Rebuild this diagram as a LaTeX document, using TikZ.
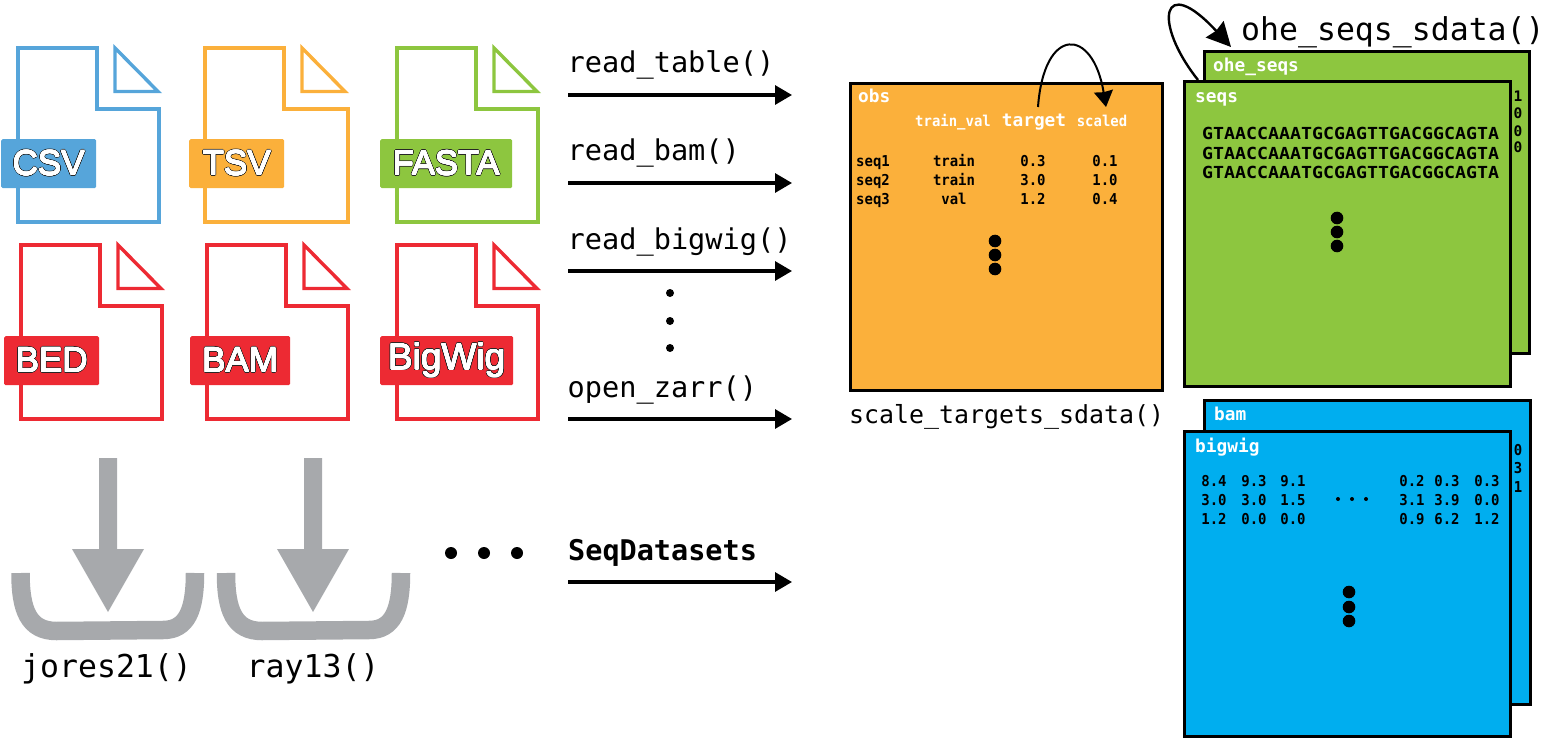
\documentclass[tikz,border=0pt]{standalone}
\usepackage{fontspec}
\usepackage{contour}
\setmainfont{Liberation Sans}
\setmonofont{DejaVu Sans Mono}
\newfontfamily\tblfont[FakeStretch=0.93]{DejaVu Sans Mono}
\newfontfamily\seqfont[FakeStretch=1.1]{DejaVu Sans Mono}
\usetikzlibrary{arrows.meta,positioning}
\definecolor{csvblue}{HTML}{56A5DA}
\definecolor{tsvorange}{HTML}{FBB03B}
\definecolor{fagreen}{HTML}{8DC63F}
\definecolor{bedred}{HTML}{ED2A33}
\definecolor{traygray}{HTML}{A7A9AC}
\definecolor{cyanbox}{HTML}{00AEEF}
\newcommand{\tagtext}[1]{\raisebox{-1pt}{\rlap{\contourlength{1.2pt}\contour{black!85}{#1}}\contourlength{0.35pt}\contour{white}{\textcolor{white}{#1}}}}
\tikzset{
  func/.style={inner sep=0pt,anchor=base west,font=\ttfamily\fontsize{28.6}{30}\selectfont},
  funcbig/.style={inner sep=0pt,anchor=base west,font=\ttfamily\fontsize{31.5}{33}\selectfont},
  slot/.style={inner sep=0pt,anchor=base west,text=white,font=\ttfamily\bfseries\fontsize{17.8}{19}\selectfont},
  cell/.style={inner sep=0pt,anchor=base,font=\tblfont\bfseries\fontsize{15}{17}\selectfont},
  head/.style={inner sep=0pt,anchor=base,text=white,font=\tblfont\bfseries\fontsize{15}{17}\selectfont},
  seqline/.style={inner sep=0pt,anchor=base west,font=\seqfont\bfseries\fontsize{16.6}{18}\selectfont},
  bitcell/.style={inner sep=0pt,anchor=base,font=\ttfamily\bfseries\fontsize{14.5}{16}\selectfont},
  layer/.style={draw=black,line width=3pt,outer sep=0pt,inner sep=0pt,anchor=north west},
  readarrow/.style={-{Triangle[length=17pt,width=19pt]},line width=3.2pt},
  bigarc/.style={-{Stealth[length=16pt,width=19pt,inset=1pt]},line width=2pt},
  hugearc/.style={-{Stealth[length=24pt,width=24pt,inset=2pt]},line width=2.4pt},
  dot/.style={circle,fill=black,inner sep=0pt,minimum size=#1},
  filetag/.style={rounded corners=1.5pt,inner sep=0pt,text=white},
  graybar/.style={draw=traygray,line width=18.5pt}
}
\begin{document}
\begin{tikzpicture}[x=1pt,y=-1pt]
\useasboundingbox (0,0) rectangle (1547,738);

% file icons
\foreach \px/\py/\bw/\colr/\tagl/\tagr/\tagt/\fsz/\nm/\txt in {
  18/48/141/csvblue/1/96/139/35/csv/CSV,
  205/48/143/tsvorange/189/284/139/35/tsv/TSV,
  397/48/141/fagreen/380/512/139/34.5/fasta/FASTA,
  21/245/141/bedred/4/99/336/35/bed/BED,
  207/245/141/bedred/190/290/336/35/bam/BAM,
  397/245/141/bedred/380/513/336/37/bigwig/BigWig}{
  \draw[\colr,line width=3.4pt,miter limit=10] (\px,\py) -- ++(79,0) -- ++(0,61) -- (\px+\bw,\py+61) -- (\px+\bw,\py+174) -- (\px,\py+174) -- cycle;
  \draw[\colr,line width=3.4pt,miter limit=10] (\px+97,\py) -- (\px+97,\py+43.5) -- (\px+140,\py+43.5) -- cycle;
  \node[filetag,fill=\colr,minimum height=49pt,minimum width=\tagr pt-\tagl pt,anchor=north west,font=\fontsize{\fsz}{37}\selectfont] (\nm) at (\tagl,\tagt) {\tagtext{\txt}};
}

% read functions
\foreach \nm/\txt/\yy in {rtable/read\_table()/95, rbam/read\_bam()/183, rwig/read\_bigwig()/271, ozarr/open\_zarr()/419}{
  \node[func] (\nm) at (567.5,\yy-22) {\txt};
  \coordinate (\nm s) at (568,\yy);
  \coordinate (\nm e) at (792,\yy);
  \draw[readarrow] (\nm s) -- (\nm e);
}
\node[func,font=\ttfamily\bfseries\fontsize{28.5}{30}\selectfont] (sqd) at (568,560) {SeqDatasets};
\coordinate (sqds) at (568,582);
\coordinate (sqde) at (792,582);
\draw[readarrow] (sqds) -- (sqde);
\foreach \yy [count=\i] in {293,321,348}{
  \node[dot=8pt] (vd\i) at (670,\yy) {};
}

% downloaders
\foreach \sx/\lx/\rx/\nm in {108/20.5/195/jores, 313/226/401/ray}{
  \draw[graybar] (\lx,573) .. controls (\lx,610) and (\lx+8,631) .. (\lx+36,631) -- (\rx-32,630) .. controls (\rx-8,630) and (\rx,610) .. (\rx,573);
  \fill[traygray] (\sx-9,458) -- (\sx+9,458) -- (\sx+9,549) -- (\sx+36,549) -- (\sx,612) -- (\sx-36,549) -- (\sx-9,549) -- cycle;
}
\node[funcbig] (jores) at (21,677) {jores21()};
\node[funcbig] (ray) at (246.5,677) {ray13()};
\foreach \xx [count=\i] in {451,484,517}{
  \node[dot=12pt] (hd\i) at (\xx,553) {};
}

% obs table
\node[layer,fill=tsvorange,minimum width=312pt,minimum height=306pt] (obsbox) at (850,84) {};
\node[slot] (obs) at (858,103) {obs};
\node[head] (htrain) at (953,127) {train\_val};
\node[head,font=\ttfamily\bfseries\fontsize{17.8}{19}\selectfont] (htarget) at (1034,127) {target};
\node[head] (hscaled) at (1102,127) {scaled};
\foreach \nmr/\aa/\bb/\cc/\dd/\yy in {1/seq1/train/0.3/0.1/167, 2/seq2/train/3.0/1.0/186, 3/seq3/val/1.2/0.4/205}{
  \node[cell] (oa\nmr) at (873,\yy) {\aa};
  \node[cell] (ob\nmr) at (954,\yy) {\bb};
  \node[cell] (oc\nmr) at (1033,\yy) {\cc};
  \node[cell] (od\nmr) at (1105,\yy) {\dd};
}
\foreach \yy [count=\i] in {241,255,269}{
  \node[dot=12.6pt] (od\i x) at (995,\yy) {};
}
\node[inner sep=0pt,anchor=base west,font=\ttfamily\fontsize{24.9}{28}\selectfont] (scale) at (849,423) {scale\_targets\_sdata()};
\coordinate (archa) at (1038,107);
\coordinate (archb) at (1106,107);
\draw[bigarc] (archa) .. controls (1044,25) and (1093,27) .. (archb);

% seqs layers
\node[layer,fill=fagreen,minimum width=325pt,minimum height=302pt] (ohebox) at (1204.5,51.5) {};
\node[slot] (ohe) at (1213,72) {ohe\_seqs};
\foreach \bit/\yy [count=\i] in {1/102,0/119,0/136.5,0/153}{
  \node[bitcell] (onehot\i) at (1518,\yy) {\bit};
}
\node[layer,fill=fagreen,minimum width=326pt,minimum height=304.5pt] (seqbox) at (1184.4,81.7) {};
\node[slot] (seqs) at (1195,103) {seqs};
\foreach \yy [count=\i] in {139.5,160,179}{
  \node[seqline] (sq\i) at (1202,\yy) {GTAACCAAATGCGAGTTGACGGCAGTA};
}
\foreach \yy [count=\i] in {218,232,246}{
  \node[dot=12.6pt] (sd\i) at (1337,\yy) {};
}
\node[funcbig] (ohefn) at (1241,41) {ohe\_seqs\_sdata()};
\coordinate (loopa) at (1198,80);
\coordinate (loopb) at (1231,47);
\draw[hugearc] (loopa) .. controls (1152,22) and (1162,-28) .. (loopb);

% bigwig layers
\node[layer,fill=cyanbox,minimum width=326pt,minimum height=304.5pt] (bambox) at (1204,400) {};
\node[slot] (bam) at (1214,420.7) {bam};
\foreach \bit/\yy [count=\i] in {0/455,3/473.5,1/492}{
  \node[cell] (cnt\i) at (1518,\yy) {\bit};
}
\node[layer,fill=cyanbox,minimum width=326pt,minimum height=305.5pt] (wigbox) at (1184.4,431) {};
\node[slot] (wig) at (1195,452) {bigwig};
\foreach \nmr/\aa/\bb/\cc/\dd/\ee/\ff/\yy in {1/8.4/9.3/9.1/0.2/0.3/0.3/486, 2/3.0/3.0/1.5/3.1/3.9/0.0/505, 3/1.2/0.0/0.0/0.9/6.2/1.2/524}{
  \node[cell] (wa\nmr) at (1214,\yy) {\aa};
  \node[cell] (wb\nmr) at (1254,\yy) {\bb};
  \node[cell] (wc\nmr) at (1293,\yy) {\cc};
  \node[cell] (wd\nmr) at (1412,\yy) {\dd};
  \node[cell] (we\nmr) at (1447,\yy) {\ee};
  \node[cell] (wf\nmr) at (1487,\yy) {\ff};
}
\foreach \xx [count=\i] in {1338,1352,1366}{
  \node[dot=4pt] (we\i x) at (\xx,499) {};
}
\foreach \yy [count=\i] in {592,607,621}{
  \node[dot=12.6pt] (wd\i x) at (1349,\yy) {};
}
\end{tikzpicture}
\end{document}
